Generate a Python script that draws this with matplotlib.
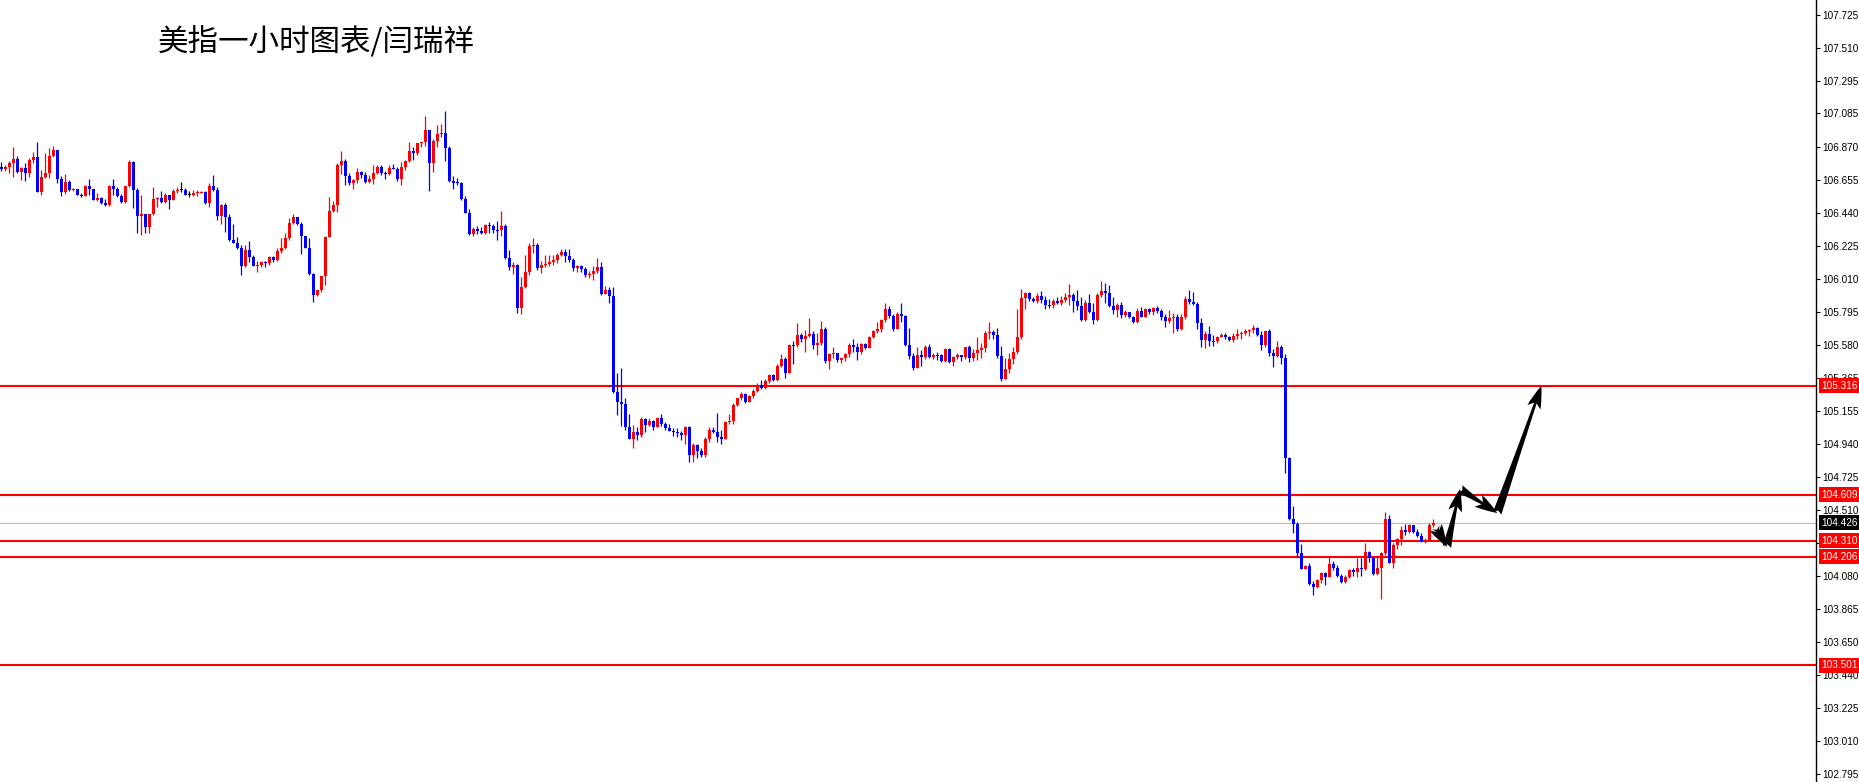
import numpy as np
import matplotlib
matplotlib.use('Agg')
import matplotlib.pyplot as plt
from matplotlib.transforms import blended_transform_factory
from matplotlib.patches import FancyArrowPatch

# hourly candles (open of each bar = previous close)
first_open = 106.735
closes = [
    106.723, 106.736, 106.766, 106.788, 106.703, 106.731, 106.701, 106.783, 106.801, 106.578,
    106.671, 106.697, 106.809, 106.848, 106.660, 106.575, 106.640, 106.588, 106.593, 106.556,
    106.549, 106.614, 106.593, 106.523, 106.536, 106.502, 106.489, 106.614, 106.593, 106.549,
    106.511, 106.614, 106.772, 106.588, 106.420, 106.430, 106.350, 106.430, 106.528, 106.539,
    106.513, 106.554, 106.523, 106.582, 106.588, 106.588, 106.558, 106.558, 106.567, 106.571,
    106.575, 106.504, 106.614, 106.588, 106.420, 106.491, 106.415, 106.264, 106.242, 106.214,
    106.097, 106.199, 106.155, 106.097, 106.103, 106.121, 106.112, 106.151, 106.134, 106.192,
    106.214, 106.279, 106.376, 106.411, 106.368, 106.290, 106.212, 106.041, 105.909, 105.939,
    106.032, 106.285, 106.454, 106.489, 106.751, 106.777, 106.679, 106.636, 106.653, 106.705,
    106.686, 106.643, 106.658, 106.701, 106.736, 106.697, 106.692, 106.729, 106.725, 106.660,
    106.740, 106.777, 106.844, 106.831, 106.892, 106.902, 106.978, 106.762, 106.907, 106.952,
    106.961, 106.863, 106.647, 106.636, 106.632, 106.528, 106.441, 106.302, 106.335, 106.322,
    106.307, 106.361, 106.357, 106.328, 106.326, 106.354, 106.144, 106.090, 106.101, 105.824,
    105.958, 106.056, 106.224, 106.231, 106.079, 106.101, 106.108, 106.123, 106.134, 106.164,
    106.183, 106.160, 106.134, 106.084, 106.097, 106.077, 106.036, 106.043, 106.062, 106.090,
    105.913, 105.939, 105.902, 105.278, 105.213, 105.198, 105.051, 104.973, 105.016, 104.999,
    105.101, 105.064, 105.088, 105.051, 105.108, 105.071, 105.043, 105.025, 105.017, 105.010,
    104.997, 105.049, 104.867, 104.932, 104.895, 104.867, 104.971, 105.030, 105.019, 104.986,
    104.973, 105.082, 105.088, 105.190, 105.237, 105.266, 105.212, 105.250, 105.285, 105.320,
    105.302, 105.346, 105.387, 105.354, 105.447, 105.491, 105.402, 105.582, 105.580, 105.647,
    105.619, 105.640, 105.653, 105.582, 105.597, 105.683, 105.478, 105.523, 105.532, 105.484,
    105.495, 105.523, 105.582, 105.569, 105.536, 105.588, 105.564, 105.636, 105.673, 105.683,
    105.744, 105.816, 105.772, 105.683, 105.783, 105.772, 105.580, 105.510, 105.435, 105.517,
    105.502, 105.567, 105.506, 105.517, 105.515, 105.478, 105.554, 105.473, 105.502, 105.515,
    105.506, 105.567, 105.500, 105.528, 105.549, 105.560, 105.658, 105.665, 105.649, 105.510,
    105.361, 105.426, 105.491, 105.534, 105.632, 105.889, 105.922, 105.879, 105.870, 105.900,
    105.874, 105.842, 105.840, 105.870, 105.853, 105.874, 105.892, 105.909, 105.870, 105.835,
    105.744, 105.857, 105.794, 105.744, 105.907, 105.933, 105.922, 105.837, 105.809, 105.840,
    105.777, 105.796, 105.766, 105.733, 105.803, 105.766, 105.814, 105.796, 105.824, 105.803,
    105.766, 105.740, 105.755, 105.766, 105.686, 105.766, 105.881, 105.863, 105.848, 105.727,
    105.614, 105.653, 105.610, 105.604, 105.636, 105.647, 105.632, 105.614, 105.640, 105.653,
    105.662, 105.675, 105.678, 105.694, 105.647, 105.582, 105.669, 105.532, 105.513, 105.567,
    105.500, 104.845, 104.449, 104.416, 104.232, 104.128, 104.148, 104.029, 104.011, 104.055,
    104.098, 104.076, 104.159, 104.131, 104.081, 104.042, 104.072, 104.120, 104.107, 104.131,
    104.124, 104.237, 104.196, 104.094, 104.131, 104.228, 104.451, 104.167, 104.282, 104.321,
    104.380, 104.369, 104.410, 104.369, 104.341, 104.308, 104.315, 104.410, 104.427,
]
highs = [
    106.772, 106.751, 106.775, 106.866, 106.809, 106.736, 106.762, 106.794, 106.837, 106.900,
    106.718, 106.827, 106.859, 106.874, 106.848, 106.679, 106.692, 106.653, 106.599, 106.593,
    106.571, 106.621, 106.658, 106.597, 106.567, 106.545, 106.528, 106.621, 106.658, 106.606,
    106.562, 106.614, 106.783, 106.777, 106.599, 106.556, 106.433, 106.433, 106.606, 106.545,
    106.580, 106.567, 106.545, 106.593, 106.606, 106.640, 106.601, 106.584, 106.588, 106.588,
    106.584, 106.584, 106.636, 106.686, 106.606, 106.498, 106.506, 106.433, 106.368, 106.285,
    106.229, 106.229, 106.259, 106.166, 106.125, 106.125, 106.129, 106.160, 106.160, 106.210,
    106.275, 106.307, 106.404, 106.433, 106.415, 106.381, 106.290, 106.279, 106.052, 105.939,
    106.032, 106.290, 106.545, 106.519, 106.762, 106.842, 106.788, 106.697, 106.658, 106.731,
    106.714, 106.705, 106.686, 106.749, 106.751, 106.751, 106.710, 106.751, 106.757, 106.740,
    106.772, 106.783, 106.900, 106.866, 106.896, 106.902, 107.069, 106.978, 106.918, 107.011,
    107.017, 107.099, 106.874, 106.679, 106.666, 106.640, 106.549, 106.463, 106.350, 106.354,
    106.350, 106.367, 106.378, 106.367, 106.389, 106.452, 106.367, 106.198, 106.123, 106.108,
    106.025, 106.164, 106.242, 106.274, 106.242, 106.127, 106.164, 106.164, 106.164, 106.177,
    106.207, 106.205, 106.205, 106.149, 106.101, 106.099, 106.086, 106.062, 106.095, 106.149,
    106.121, 105.965, 105.960, 105.960, 105.402, 105.432, 105.239, 105.133, 105.060, 105.051,
    105.112, 105.105, 105.105, 105.095, 105.116, 105.134, 105.084, 105.069, 105.040, 105.045,
    105.021, 105.056, 105.058, 104.943, 104.937, 104.915, 104.982, 105.051, 105.051, 105.140,
    105.030, 105.090, 105.134, 105.203, 105.240, 105.279, 105.272, 105.255, 105.294, 105.337,
    105.354, 105.359, 105.393, 105.393, 105.456, 105.523, 105.502, 105.588, 105.610, 105.727,
    105.658, 105.679, 105.755, 105.675, 105.658, 105.735, 105.701, 105.532, 105.567, 105.532,
    105.502, 105.528, 105.593, 105.621, 105.597, 105.597, 105.597, 105.642, 105.679, 105.733,
    105.753, 105.852, 105.835, 105.781, 105.796, 105.852, 105.779, 105.692, 105.532, 105.567,
    105.549, 105.582, 105.586, 105.528, 105.538, 105.523, 105.560, 105.560, 105.510, 105.528,
    105.519, 105.571, 105.582, 105.554, 105.636, 105.597, 105.669, 105.733, 105.679, 105.692,
    105.575, 105.500, 105.528, 105.567, 105.816, 105.948, 105.928, 105.928, 105.896, 105.922,
    105.933, 105.900, 105.879, 105.879, 105.896, 105.902, 105.918, 105.978, 105.918, 105.939,
    105.896, 105.874, 105.911, 105.857, 105.918, 106.000, 105.987, 105.972, 105.896, 105.857,
    105.863, 105.809, 105.798, 105.770, 105.822, 105.831, 105.824, 105.824, 105.827, 105.835,
    105.818, 105.781, 105.809, 105.788, 105.783, 105.783, 105.900, 105.939, 105.928, 105.861,
    105.755, 105.675, 105.705, 105.647, 105.640, 105.658, 105.662, 105.640, 105.658, 105.686,
    105.675, 105.686, 105.684, 105.712, 105.701, 105.669, 105.675, 105.686, 105.556, 105.604,
    105.580, 105.520, 104.852, 104.535, 104.434, 104.289, 104.152, 104.163, 104.050, 104.059,
    104.109, 104.109, 104.211, 104.180, 104.152, 104.094, 104.087, 104.124, 104.131, 104.196,
    104.196, 104.297, 104.245, 104.206, 104.211, 104.234, 104.499, 104.477, 104.293, 104.330,
    104.406, 104.419, 104.416, 104.412, 104.384, 104.358, 104.325, 104.423, 104.449,
]
lows = [
    106.710, 106.710, 106.701, 106.675, 106.697, 106.653, 106.649, 106.675, 106.766, 106.575,
    106.558, 106.664, 106.666, 106.801, 106.636, 106.549, 106.562, 106.580, 106.584, 106.556,
    106.545, 106.549, 106.556, 106.523, 106.519, 106.498, 106.485, 106.485, 106.556, 106.545,
    106.502, 106.502, 106.606, 106.469, 106.311, 106.296, 106.307, 106.311, 106.426, 106.476,
    106.506, 106.506, 106.465, 106.523, 106.571, 106.578, 106.556, 106.541, 106.552, 106.552,
    106.567, 106.498, 106.476, 106.584, 106.394, 106.368, 106.318, 106.259, 106.242, 106.203,
    106.039, 106.090, 106.123, 106.095, 106.058, 106.090, 106.090, 106.103, 106.123, 106.125,
    106.181, 106.203, 106.264, 106.368, 106.363, 106.173, 106.210, 106.036, 105.863, 105.900,
    105.928, 105.971, 106.361, 106.446, 106.446, 106.692, 106.621, 106.623, 106.597, 106.636,
    106.664, 106.636, 106.636, 106.627, 106.692, 106.686, 106.662, 106.688, 106.723, 106.649,
    106.623, 106.718, 106.772, 106.783, 106.816, 106.870, 106.874, 106.584, 106.708, 106.870,
    106.931, 106.777, 106.643, 106.597, 106.623, 106.523, 106.437, 106.296, 106.289, 106.302,
    106.300, 106.302, 106.311, 106.307, 106.263, 106.289, 106.138, 106.069, 106.043, 105.787,
    105.783, 105.952, 106.036, 106.181, 106.069, 106.051, 106.090, 106.095, 106.099, 106.116,
    106.160, 106.123, 106.123, 106.064, 106.058, 106.056, 106.023, 106.014, 106.004, 106.051,
    105.908, 105.913, 105.856, 105.272, 105.127, 105.055, 105.029, 104.969, 104.915, 104.964,
    104.986, 105.019, 105.056, 105.030, 105.047, 105.056, 105.030, 105.021, 104.991, 104.982,
    104.965, 104.939, 104.822, 104.822, 104.848, 104.856, 104.856, 104.954, 105.012, 104.954,
    104.939, 104.969, 105.069, 105.069, 105.186, 105.224, 105.207, 105.212, 105.235, 105.279,
    105.298, 105.294, 105.333, 105.350, 105.350, 105.441, 105.365, 105.398, 105.458, 105.571,
    105.603, 105.538, 105.632, 105.554, 105.515, 105.582, 105.467, 105.428, 105.495, 105.471,
    105.467, 105.480, 105.502, 105.538, 105.484, 105.521, 105.556, 105.560, 105.625, 105.658,
    105.668, 105.729, 105.755, 105.675, 105.683, 105.733, 105.575, 105.493, 105.419, 105.435,
    105.445, 105.489, 105.499, 105.493, 105.486, 105.473, 105.469, 105.467, 105.447, 105.491,
    105.480, 105.493, 105.473, 105.480, 105.484, 105.497, 105.539, 105.619, 105.619, 105.500,
    105.350, 105.359, 105.402, 105.459, 105.523, 105.623, 105.814, 105.870, 105.863, 105.857,
    105.857, 105.816, 105.824, 105.822, 105.846, 105.842, 105.859, 105.842, 105.796, 105.809,
    105.738, 105.738, 105.788, 105.718, 105.738, 105.892, 105.857, 105.831, 105.783, 105.762,
    105.759, 105.766, 105.755, 105.727, 105.727, 105.762, 105.762, 105.783, 105.775, 105.792,
    105.744, 105.701, 105.723, 105.658, 105.675, 105.679, 105.751, 105.846, 105.842, 105.688,
    105.571, 105.565, 105.575, 105.575, 105.593, 105.632, 105.623, 105.608, 105.601, 105.623,
    105.621, 105.647, 105.640, 105.662, 105.640, 105.549, 105.571, 105.513, 105.441, 105.502,
    105.460, 104.752, 104.444, 104.362, 104.202, 104.124, 104.124, 104.022, 103.957, 104.005,
    104.037, 104.022, 104.072, 104.120, 104.076, 104.033, 104.037, 104.066, 104.081, 104.076,
    104.081, 104.120, 104.174, 104.087, 104.087, 103.931, 104.217, 104.167, 104.135, 104.254,
    104.282, 104.347, 104.362, 104.362, 104.336, 104.299, 104.297, 104.310, 104.401,
]

level_prices = [105.316, 104.609, 104.310, 104.206, 103.501]   # red horizontal lines
last_price = 104.426
ytick_labels = ['107.725', '107.510', '107.295', '107.085', '106.870', '106.655',
                '106.440', '106.225', '106.010', '105.795', '105.580', '105.365',
                '105.155', '104.940', '104.725', '104.510', '104.295', '104.080',
                '103.865', '103.650', '103.440', '103.225', '103.010', '102.795']
# hand drawn forecast arrows (bar index, price)
arrow_path = [(358.7, 104.393), (361.4, 104.270), (364.7, 104.646),
              (374.0, 104.490), (385.0, 105.315)]
title = '美指一小时图表/闫瑞祥'

RED = '#ff0000'
BLUE = '#0000ff'

closes = np.array(closes)
opens = np.concatenate([[first_open], closes[:-1]])
highs = np.maximum(np.array(highs), np.maximum(opens, closes))
lows = np.minimum(np.array(lows), np.minimum(opens, closes))
x = np.arange(len(closes))

colors = np.where(closes > opens, RED, np.where(closes < opens, BLUE, 'black'))

fig = plt.figure(figsize=(18.59, 7.82), dpi=100)
ax = fig.add_axes([0, 0, 1816 / 1859, 1])

ax.set_xlim(-0.325, 453.675)
ax.set_ylim(102.743, 107.822)

# candles
ax.vlines(x, lows, highs, colors=colors, linewidth=0.9, zorder=3)
body_lo = np.minimum(opens, closes)
body_h = np.abs(closes - opens)
min_h = 0.0065
body_lo = np.where(body_h < min_h, (opens + closes) / 2 - min_h / 2, body_lo)
body_h = np.maximum(body_h, min_h)
ax.bar(x, body_h, width=0.75, bottom=body_lo, color=colors, linewidth=0,
       zorder=4, antialiased=False)

# levels
ax.axhline(last_price, color='#c0c0c0', linewidth=0.9, zorder=2)
for p in level_prices:
    ax.axhline(p, color=RED, linewidth=1.5, zorder=2)

# arrows
for (x0, y0), (x1, y1) in zip(arrow_path[:-1], arrow_path[1:]):
    arr = FancyArrowPatch((x0, y0), (x1, y1),
                          arrowstyle='fancy,head_length=0.9,head_width=0.55,tail_width=0.35',
                          mutation_scale=18, color='black', linewidth=0,
                          shrinkA=0, shrinkB=0, zorder=6)
    ax.add_patch(arr)

# right price axis
for s in ['left', 'top', 'bottom']:
    ax.spines[s].set_visible(False)
ax.spines['right'].set_color('black')
ax.spines['right'].set_linewidth(1.0)
ax.set_xticks([])
ax.yaxis.tick_right()
ax.set_yticks([float(t) for t in ytick_labels])
ax.set_yticklabels(ytick_labels)
ax.tick_params(axis='y', direction='out', length=3, width=0.8, pad=1.5,
               labelsize=7.2, colors='black')
for lab in ax.get_yticklabels():
    lab.set_family('Liberation Sans')

tr = blended_transform_factory(ax.transAxes, ax.transData)
for p in level_prices:
    ax.text(1.0028, p, f'{p:.3f}', transform=tr, color='white', fontsize=7.2,
            family='Liberation Sans', va='center', ha='left', clip_on=False, zorder=10,
            bbox=dict(boxstyle='square,pad=0.25', fc=RED, ec='none'))
ax.text(1.0028, last_price, f'{last_price:.3f}', transform=tr, color='white',
        fontsize=7.2, family='Liberation Sans', va='center', ha='left',
        clip_on=False, zorder=10,
        bbox=dict(boxstyle='square,pad=0.25', fc='black', ec='none'))

fig.text(158 / 1859, 1 - 42 / 782, title, fontsize=22, va='center', ha='left',
         family=['Noto Sans CJK SC', 'DejaVu Sans'], color='black')

fig.savefig('out.png', dpi=100, facecolor='white')
